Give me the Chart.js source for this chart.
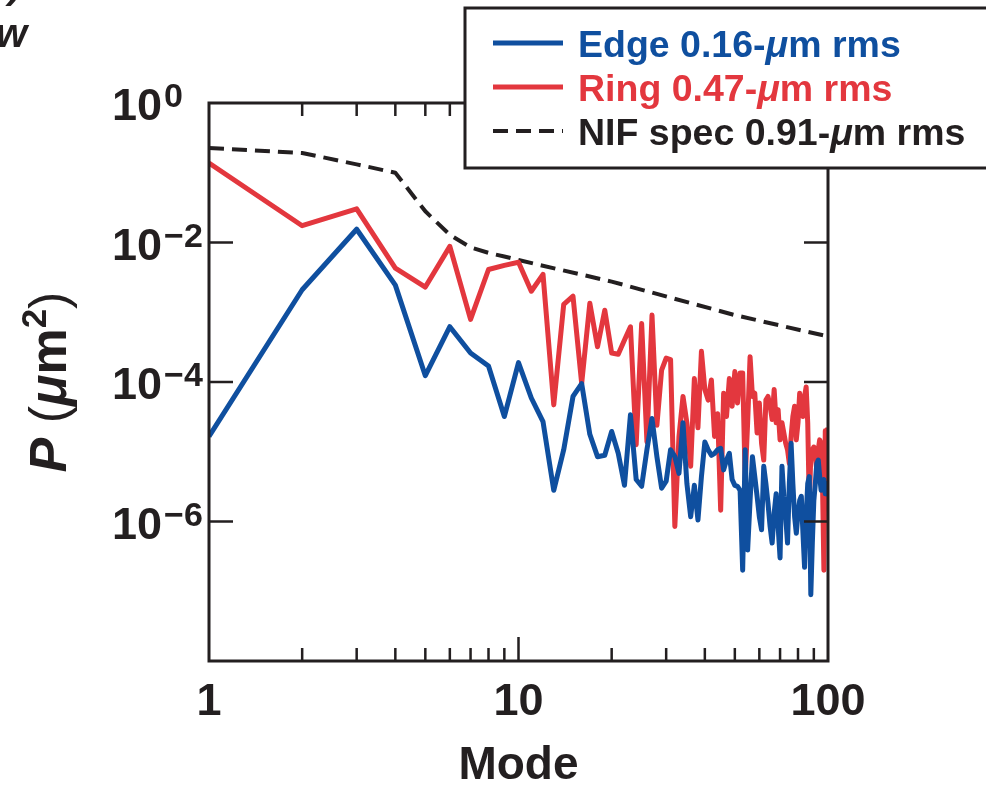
<!DOCTYPE html>
<html>
<head>
<meta charset="utf-8">
<script src="https://cdn.jsdelivr.net/npm/chart.js"></script>
<style>
  html, body { margin: 0; padding: 0; background: #fff; }
  #wrap { width: 986px; height: 789px; }
</style>
</head>
<body>
<div id="wrap"><canvas id="psd" width="986" height="789"></canvas></div>
<script>
// mode numbers (x) and power values (y, µm^2)
const modes = [
  1, 2, 3, 4, 5, 6, 7, 8, 9, 10, 11, 12, 13, 14, 15, 16, 17, 18, 19, 20,
  21, 22, 23, 24, 25, 26, 27, 28, 29, 30, 31, 32, 33, 34, 35, 36, 37, 38, 39, 40,
  41, 42, 43, 44, 45, 46, 47, 48, 49, 50, 51, 52, 53, 54, 55, 56, 57, 58, 59, 60,
  61, 62, 63, 64, 65, 66, 67, 68, 69, 70, 71, 72, 73, 74, 75, 76, 77, 78, 79, 80,
  81, 82, 83, 84, 85, 86, 87, 88, 89, 90, 91, 92, 93, 94, 95, 96, 97, 98, 99, 100
];
const edgePower = [
  1.66e-5, 2.1e-3, 1.55e-2, 2.45e-3, 1.23e-4, 6.2e-4, 2.6e-4, 1.7e-4, 3.2e-5, 1.9e-4,
  5.9e-5, 2.7e-5, 2.8e-6, 1.07e-5, 6.2e-5, 9.5e-5, 1.78e-5, 8.5e-6, 8.9e-6, 1.95e-5,
  9.5e-6, 3.3e-6, 3.4e-5, 4.0e-6, 3.2e-6, 1.07e-5, 3.0e-5, 8.5e-6, 3.0e-6, 3.8e-6,
  1.07e-5, 8.5e-6, 4.9e-6, 2.6e-5, 3.5e-6, 1.17e-6, 3.3e-6, 1.05e-6, 4.4e-6, 1.38e-5,
  1.07e-5, 8.9e-6, 9.5e-6, 1.07e-5, 1.12e-5, 5.5e-6, 7.6e-6, 9.5e-6, 4.0e-6, 3.3e-6,
  3.2e-6, 2.8e-6, 2.0e-7, 1.07e-5, 3.9e-7, 2.0e-6, 8.5e-6, 4.4e-6, 2.3e-6, 1.17e-6,
  7.6e-7, 6.2e-6, 3.5e-6, 1.82e-6, 8.5e-7, 4.9e-7, 1.32e-6, 2.5e-6, 8.5e-7, 3.0e-7,
  6.2e-6, 2.3e-6, 1.17e-6, 4.9e-7, 3.5e-6, 1.32e-5, 3.5e-6, 1.17e-6, 6.8e-7, 1.32e-6,
  2.0e-6, 2.3e-6, 6.8e-7, 2.2e-7, 1.17e-6, 3.5e-6, 4.4e-6, 8.9e-8, 4.9e-7, 2.0e-6,
  3.5e-6, 6.8e-6, 7.6e-6, 4.4e-6, 2.8e-6, 3.5e-6, 4.0e-6, 2.5e-6, 3.5e-6, 2.3e-6
];
const ringPower = [
  0.138, 1.74e-2, 3.04e-2, 4.3e-3, 2.3e-3, 8.8e-3, 7.9e-4, 4.1e-3, 4.7e-3, 5.2e-3,
  2.0e-3, 3.5e-3, 4.7e-5, 1.3e-3, 1.7e-3, 9.5e-5, 1.35e-3, 3.2e-4, 1.07e-3, 2.6e-4,
  2.5e-4, 4.0e-4, 6.2e-4, 1.26e-5, 6.9e-4, 1.38e-5, 9.1e-4, 2.4e-5, 1.48e-4, 2.2e-4,
  2.1e-4, 8.5e-7, 1.66e-5, 6.2e-5, 2.6e-5, 6.2e-6, 1.12e-4, 2.2e-5, 2.75e-4, 7.8e-5,
  5.5e-5, 1.07e-4, 1.66e-5, 3.5e-5, 1.45e-6, 6.9e-5, 3.2e-5, 1.12e-4, 4.5e-5, 1.41e-4,
  5.0e-5, 1.35e-4, 1.35e-4, 4.0e-6, 2.6e-5, 2.3e-4, 6.2e-5, 6.9e-5, 1.86e-5, 5.0e-5,
  1.32e-5, 7.6e-6, 5.5e-5, 6.2e-5, 4.5e-5, 2.9e-5, 7.8e-5, 2.6e-5, 4.0e-5, 1.48e-5,
  2.6e-5, 1.86e-5, 1.32e-5, 1.07e-5, 6.8e-6, 1.66e-5, 3.2e-5, 4.5e-5, 1.48e-5, 2.6e-5,
  6.9e-5, 4.5e-5, 3.2e-5, 6.2e-5, 8.5e-5, 2.6e-5, 1.82e-6, 8.5e-6, 1.07e-5, 1.17e-5,
  8.5e-6, 5.5e-6, 1.07e-5, 1.48e-5, 1.32e-5, 3.5e-6, 2.0e-7, 2.0e-5, 1.86e-5, 2.2e-5
];
const nifModes = [1, 2, 3, 4, 5, 6, 7, 8, 9, 10, 20, 50, 100];
const nifPower = [0.226, 0.192, 0.132, 0.100, 0.028, 0.0129, 0.0085, 0.0071, 0.0063, 0.0056, 0.00275, 9.1e-4, 4.5e-4];

const seriesLabels = ['Edge 0.16-μm rms', 'Ring 0.47-μm rms', 'NIF spec 0.91-μm rms'];

// axis ticks
const xLabelTicks = [1, 10, 100];
const xMajorTicks = [10];
const xMinorTicks = [2, 3, 4, 5, 6, 7, 8, 9, 20, 30, 40, 50, 60, 70, 80, 90];
const yTickValues = [1, 1e-2, 1e-4, 1e-6];
const yTickExponents = ['0', '−2', '−4', '−6'];
const yTickMarks = [1e-2, 1e-4, 1e-6];

const INK = '#231f20';
const BLUE = '#0f4f9f';
const RED = '#e3373e';
const FONT = '"Liberation Sans", Arial, Helvetica, sans-serif';

// text with an italic µ in it
function drawRich(ctx, text, x, y, size, color, weight) {
  ctx.fillStyle = color;
  ctx.textBaseline = 'alphabetic';
  ctx.textAlign = 'left';
  const parts = text.split('μ');
  parts.forEach((p, i) => {
    ctx.font = `${weight} ${size}px ${FONT}`;
    ctx.fillText(p, x, y);
    x += ctx.measureText(p).width;
    if (i < parts.length - 1) {
      ctx.font = `italic ${weight} ${size}px ${FONT}`;
      ctx.fillText('μ', x, y);
      x += ctx.measureText('μ').width;
    }
  });
}

const decorPlugin = {
  id: 'decor',
  afterDraw(chart) {
    const { ctx, chartArea: a, scales: { x, y } } = chart;
    ctx.save();

    // frame + inward ticks
    ctx.strokeStyle = INK;
    ctx.lineWidth = 3;
    ctx.strokeRect(a.left, a.top, a.right - a.left, a.bottom - a.top);
    ctx.lineWidth = 2.5;
    ctx.beginPath();
    xMinorTicks.forEach(v => {
      const px = x.getPixelForValue(v);
      ctx.moveTo(px, a.bottom); ctx.lineTo(px, a.bottom - 13);
      ctx.moveTo(px, a.top); ctx.lineTo(px, a.top + 13);
    });
    xMajorTicks.forEach(v => {
      const px = x.getPixelForValue(v);
      ctx.moveTo(px, a.bottom); ctx.lineTo(px, a.bottom - 24);
      ctx.moveTo(px, a.top); ctx.lineTo(px, a.top + 24);
    });
    yTickMarks.forEach(v => {
      const py = y.getPixelForValue(v);
      ctx.moveTo(a.left, py); ctx.lineTo(a.left + 24, py);
      ctx.moveTo(a.right, py); ctx.lineTo(a.right - 24, py);
    });
    ctx.stroke();

    // y tick labels 10^n
    ctx.fillStyle = INK;
    ctx.textBaseline = 'alphabetic';
    ctx.textAlign = 'left';
    yTickValues.forEach((v, i) => {
      const py = y.getPixelForValue(v);
      ctx.font = `bold 45px ${FONT}`;
      ctx.fillText('10', 112, py + 17);
      const w = ctx.measureText('10').width;
      ctx.font = `bold 34px ${FONT}`;
      ctx.fillText(yTickExponents[i], 112 + w + 2, py + 4);
    });

    // y axis title  P (µm²)
    ctx.save();
    ctx.translate(66, (a.top + a.bottom) / 2);
    ctx.rotate(-Math.PI / 2);
    const segs = [
      { t: 'P', f: `italic bold 52px ${FONT}`, dy: 0 },
      { t: ' (', f: `52px ${FONT}`, dy: 0 },
      { t: 'μ', f: `italic bold 52px ${FONT}`, dy: 0 },
      { t: 'm', f: `bold 52px ${FONT}`, dy: 0 },
      { t: '2', f: `bold 35px ${FONT}`, dy: -20 },
      { t: ')', f: `52px ${FONT}`, dy: 0 }
    ];
    let total = 0;
    segs.forEach(s => { ctx.font = s.f; s.w = ctx.measureText(s.t).width; total += s.w; });
    let cx = -total / 2;
    segs.forEach(s => { ctx.font = s.f; ctx.fillText(s.t, cx, s.dy); cx += s.w; });
    ctx.restore();

    // clipped bits of neighbouring panel text
    ctx.font = `italic bold 40px ${FONT}`;
    ctx.textAlign = 'right';
    ctx.fillText('w', 27, 47);
    ctx.fillText(')', 22, -2);
    ctx.textAlign = 'left';

    // legend box
    const box = { l: 465, t: 8, r: 995, b: 168 };
    ctx.fillStyle = '#fff';
    ctx.fillRect(box.l, box.t, box.r - box.l, box.b - box.t);
    ctx.strokeStyle = INK;
    ctx.lineWidth = 3;
    ctx.strokeRect(box.l, box.t, box.r - box.l, box.b - box.t);
    chart.data.datasets.forEach((ds, i) => {
      const cy = 43 + i * 44;
      ctx.beginPath();
      ctx.strokeStyle = ds.borderColor;
      ctx.lineWidth = ds.borderWidth;
      ctx.setLineDash(ds.borderDash || []);
      ctx.moveTo(493, cy); ctx.lineTo(563, cy);
      ctx.stroke();
      ctx.setLineDash([]);
      drawRich(ctx, ds.label, 578, cy + 14, 37.5, ds.borderColor, 'bold');
    });

    ctx.restore();
  }
};

const toPoints = (xs, ys) => xs.map((m, i) => ({ x: m, y: ys[i] }));

new Chart(document.getElementById('psd'), {
  type: 'line',
  data: {
    datasets: [
      { label: seriesLabels[0], data: toPoints(modes, edgePower), borderColor: BLUE, borderWidth: 5 },
      { label: seriesLabels[1], data: toPoints(modes, ringPower), borderColor: RED, borderWidth: 5 },
      { label: seriesLabels[2], data: toPoints(nifModes, nifPower), borderColor: INK, borderWidth: 4, borderDash: [15, 8] }
    ]
  },
  options: {
    responsive: false,
    animation: false,
    devicePixelRatio: 1,
    elements: {
      point: { radius: 0 },
      line: { tension: 0, borderJoinStyle: 'round', fill: false }
    },
    layout: { padding: { top: 103, right: 158, left: 0, bottom: 0 } },
    scales: {
      x: {
        type: 'logarithmic',
        min: 1,
        max: 100,
        grid: { display: false, drawTicks: false },
        border: { display: false },
        afterFit: s => { s.height = 128; },
        ticks: {
          autoSkip: false,
          maxRotation: 0,
          padding: 15,
          color: INK,
          font: { family: FONT, size: 45, weight: 'bold' },
          callback: v => xLabelTicks.includes(v) ? String(v) : ''
        },
        title: {
          display: true,
          text: 'Mode',
          color: INK,
          font: { family: FONT, size: 46, weight: 'bold', lineHeight: 1 },
          padding: { top: 0, bottom: 0 }
        }
      },
      y: {
        type: 'logarithmic',
        min: 1e-8,
        max: 1,
        grid: { display: false, drawTicks: false },
        border: { display: false },
        ticks: { display: false },
        afterFit: s => { s.width = 209; }
      }
    },
    plugins: {
      legend: { display: false },
      tooltip: { enabled: false }
    }
  },
  plugins: [decorPlugin]
});
</script>
</body>
</html>
